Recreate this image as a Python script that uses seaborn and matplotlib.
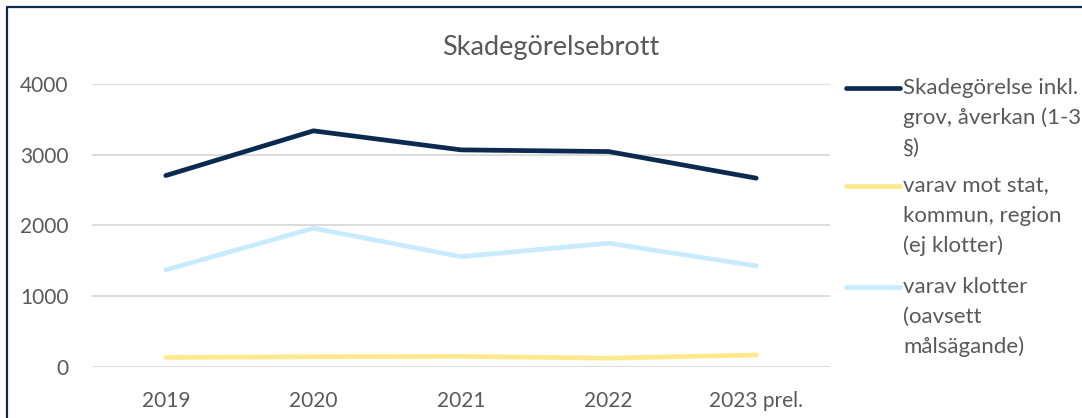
import matplotlib
matplotlib.use("Agg")
import matplotlib.pyplot as plt
from matplotlib.lines import Line2D
import seaborn as sns
import pandas as pd

years = ["2019", "2020", "2021", "2022", "2023 prel."]
skadegorelse = [2706, 3338, 3069, 3045, 2669]
mot_stat = [135, 145, 150, 125, 170]
klotter = [1372, 1962, 1560, 1750, 1429]

series_names = [
    "Skadegörelse inkl. grov, åverkan (1-3 §)",
    "varav mot stat, kommun, region (ej klotter)",
    "varav klotter (oavsett målsägande)",
]
legend_lines = [
    ["Skadegörelse inkl.", "grov, åverkan (1-3", "§)"],
    ["varav mot stat,", "kommun, region", "(ej klotter)"],
    ["varav klotter", "(oavsett", "målsägande)"],
]
colors = ["#0B2A50", "#FFE98F", "#C8EBFF"]

df = pd.DataFrame({
    "år": years * 3,
    "antal": skadegorelse + mot_stat + klotter,
    "serie": [series_names[0]] * 5 + [series_names[1]] * 5 + [series_names[2]] * 5,
})

sns.set_theme(style="white")
plt.rcParams["font.family"] = ["Lato", "DejaVu Sans"]

W, H = 1082, 418
text_color = "#595959"
fig = plt.figure(figsize=(W / 100, H / 100), dpi=100)
ax = fig.add_axes([92 / W, 1 - 367 / H, (830 - 92) / W, (367 - 84) / H])

sns.lineplot(data=df, x="år", y="antal", hue="serie", palette=colors,
             hue_order=series_names, linewidth=3.4, legend=False, ax=ax, sort=False)
for ln in ax.lines:
    ln.set_solid_capstyle("round")
    ln.set_solid_joinstyle("round")

ax.set_ylim(0, 4000)
ax.set_xlim(-0.5, 4.5)
ax.set_yticks([0, 1000, 2000, 3000, 4000])
ax.yaxis.grid(True, color="#D9D9D9", linewidth=1.3)
ax.set_axisbelow(True)
for s in ax.spines.values():
    s.set_visible(False)
ax.tick_params(axis="both", length=0, labelsize=15, labelcolor=text_color)
ax.tick_params(axis="y", pad=17)
ax.tick_params(axis="x", pad=17)
ax.set_xlabel("")
ax.set_ylabel("")

fig.text(551 / W, 1 - 47 / H, "Skadegörelsebrott", ha="center", va="center",
         fontsize=19.5, color=text_color)

# legend: handle next to the first line of each wrapped label
entry_tops = [88, 186, 287]
line_pitch = 30
for color, lines, top in zip(colors, legend_lines, entry_tops):
    fig.add_artist(Line2D([846 / W, 900 / W], [1 - top / H] * 2, transform=fig.transFigure,
                          color=color, linewidth=3.4, solid_capstyle="round"))
    for i, txt in enumerate(lines):
        fig.text(903 / W, 1 - (top + i * line_pitch) / H, txt, ha="left", va="center",
                 fontsize=16, color=text_color)

# chart frame
fig.add_artist(Line2D([7 / W, 7 / W], [0, 1 - 7 / H], transform=fig.transFigure,
                      color="#0B2A50", linewidth=1.6))
fig.add_artist(Line2D([7 / W, 1], [1 - 7 / H, 1 - 7 / H], transform=fig.transFigure,
                      color="#0B2A50", linewidth=1.6))

fig.savefig("out.png", dpi=100)
